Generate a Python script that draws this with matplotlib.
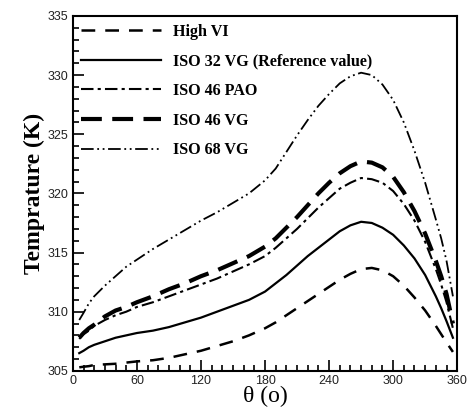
import numpy as np
import matplotlib
matplotlib.use("Agg")
import matplotlib.pyplot as plt
from matplotlib.ticker import MultipleLocator

# Data (theta in degrees, temperature in K)
theta = [6, 10, 15, 20, 30, 40, 50, 60, 75, 90, 105, 120, 135, 150, 165, 180,
         190, 200, 210, 220, 230, 240, 250, 260, 270, 280, 290, 300, 310, 320,
         330, 340, 345, 350, 356]

high_vi = [305.3, 305.35, 305.4, 305.5, 305.55, 305.6, 305.7, 305.8, 305.9, 306.1,
           306.4, 306.7, 307.1, 307.5, 308.0, 308.6, 309.1, 309.7, 310.3, 310.9,
           311.5, 312.1, 312.7, 313.2, 313.6, 313.7, 313.5, 313.0, 312.2, 311.2,
           310.1, 308.8, 308.1, 307.4, 306.6]
iso32_vg = [306.5, 306.7, 307.0, 307.2, 307.5, 307.8, 308.0, 308.2, 308.4, 308.7,
            309.1, 309.5, 310.0, 310.5, 311.0, 311.7, 312.4, 313.1, 313.9, 314.7,
            315.4, 316.1, 316.8, 317.3, 317.6, 317.5, 317.1, 316.5, 315.6, 314.5,
            313.1, 311.3, 310.3, 309.2, 307.8]
iso46_pao = [307.7, 308.1, 308.4, 308.8, 309.3, 309.7, 310.0, 310.4, 310.8, 311.3,
             311.8, 312.3, 312.8, 313.4, 314.0, 314.7, 315.4, 316.2, 317.0, 317.9,
             318.8, 319.6, 320.4, 320.9, 321.3, 321.2, 320.9, 320.2, 319.1, 317.7,
             315.9, 313.6, 312.3, 310.8, 308.6]
iso46_vg = [307.8, 308.2, 308.6, 308.9, 309.6, 310.1, 310.4, 310.8, 311.3, 311.9,
            312.4, 313.0, 313.5, 314.1, 314.7, 315.5, 316.2, 317.1, 318.0, 319.0,
            320.0, 320.9, 321.7, 322.3, 322.7, 322.6, 322.2, 321.4, 320.1, 318.5,
            316.6, 314.3, 313.0, 311.5, 309.0]
iso68_vg = [309.3, 309.9, 310.7, 311.3, 312.2, 313.0, 313.8, 314.4, 315.3, 316.1,
            316.9, 317.7, 318.4, 319.2, 320.0, 321.1, 322.1, 323.5, 324.9, 326.2,
            327.4, 328.4, 329.3, 329.9, 330.2, 330.0, 329.2, 327.9, 326.0, 323.6,
            320.9, 317.8, 316.2, 314.3, 311.3]

labels = ["High VI", "ISO 32 VG (Reference value)", "ISO 46 PAO",
          "ISO 46 VG", "ISO 68 VG"]

fig = plt.figure(figsize=(4.67, 4.08), dpi=100)
ax = fig.add_axes([0.156, 0.091, 0.823, 0.870])

ax.plot(theta, high_vi, color="black", lw=1.8, dashes=(5.5, 4), label=labels[0])
ax.plot(theta, iso32_vg, color="black", lw=1.6, label=labels[1])
ax.plot(theta, iso46_pao, color="black", lw=1.5, dashes=(6, 2, 1.5, 2), label=labels[2])
ax.plot(theta, iso46_vg, color="black", lw=3.0, dashes=(5, 2.5), label=labels[3])
ax.plot(theta, iso68_vg, color="black", lw=1.3, dashes=(7, 2, 1, 2, 1, 2), label=labels[4])

ax.set_xlim(0, 360)
ax.set_ylim(305, 335)
ax.xaxis.set_major_locator(MultipleLocator(60))
ax.xaxis.set_minor_locator(MultipleLocator(10))
ax.yaxis.set_major_locator(MultipleLocator(5))
ax.yaxis.set_minor_locator(MultipleLocator(1))
ax.tick_params(which="both", direction="in", top=False, right=False,
               width=1.2, labelsize=9, pad=3, labelcolor="#222222")
ax.tick_params(which="major", length=8)
ax.tick_params(which="minor", length=4)
for lab in ax.get_xticklabels() + ax.get_yticklabels():
    lab.set_family("Liberation Sans")
for s in ax.spines.values():
    s.set_linewidth(1.5)

ax.set_xlabel("θ (o)", family="Liberation Serif", fontsize=17, labelpad=-1)
ax.set_ylabel("Temprature (K)", family="Liberation Serif", fontsize=17,
              fontweight="bold", labelpad=2)

ax.legend(loc="upper left", frameon=False, handlelength=5.0, handletextpad=0.75,
          labelspacing=0.85, borderaxespad=0.08,
          prop={"family": "Liberation Serif", "weight": "bold", "size": 11.6})

fig.savefig("out.png", dpi=100)
